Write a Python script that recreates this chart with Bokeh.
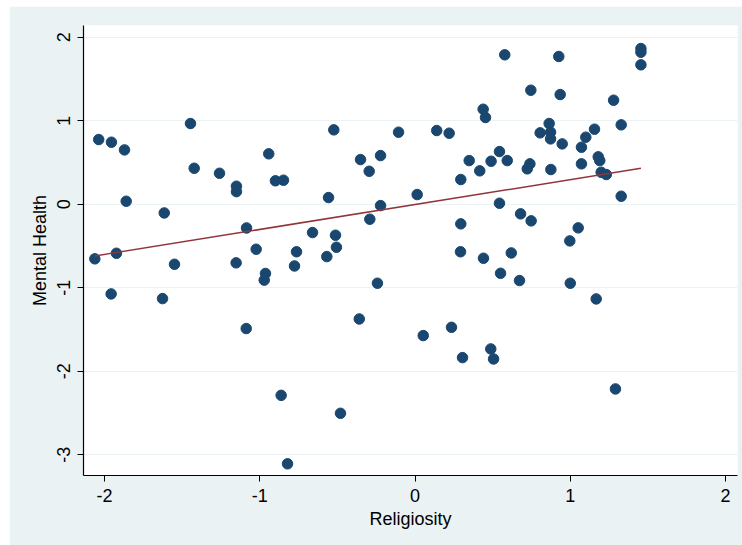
import numpy as np
from bokeh.plotting import figure
from bokeh.models import FixedTicker, ColumnDataSource
from bokeh.embed import file_html
from bokeh.resources import INLINE

# Data
religiosity = [
    -2.037, -1.955, -1.871, -1.860, -2.062, -1.923, -1.957, -1.615, -1.549, -1.626,
    -1.446, -1.422, -1.259, -1.150, -1.150, -1.085, -1.152, -1.023, -1.087, -0.942,
    -0.899, -0.847, -0.963, -0.971, -0.862, -0.821, -0.776, -0.763,
    -0.523, -0.106, 0.140, 0.220, -0.351, -0.295, -0.222, 0.014, -0.557, -0.222,
    -0.291, -0.660, -0.512, -0.506, -0.568, -0.242, -0.359, 0.053, 0.235, -0.480,
    0.295, 0.349, 0.417, 0.490, 0.544, 0.594, 0.544, 0.295, 0.293, 0.441,
    0.620, 0.551, 0.673, 0.488, 0.306, 0.506, 0.578, 0.439, 0.454,
    1.455, 1.455, 1.455, 0.926, 0.746, 0.935, 1.279, 1.328, 0.864, 0.806,
    0.873, 0.873, 0.948, 1.156, 1.100, 1.072, 1.180, 1.190, 0.723, 0.740,
    0.875, 1.072, 1.199, 1.232, 1.328, 0.680, 0.748, 1.051, 0.997, 1.000,
    1.167, 1.291,
]
mental_health = [
    0.774, 0.742, 0.650, 0.035, -0.655, -0.588, -1.075, -0.105, -0.720, -1.131,
    0.966, 0.430, 0.370, 0.215, 0.150, -0.285, -0.703, -0.540, -1.490, 0.603,
    0.280, 0.287, -0.830, -0.910, -2.290, -3.110, -0.740, -0.570,
    0.890, 0.862, 0.882, 0.850, 0.534, 0.394, 0.582, 0.115, 0.079, -0.017,
    -0.180, -0.340, -0.372, -0.516, -0.628, -0.947, -1.375, -1.574, -1.475, -2.505,
    0.295, 0.522, 0.399, 0.514, 0.630, 0.522, 0.011, -0.236, -0.570, -0.648,
    -0.584, -0.828, -0.915, -1.734, -1.838, -1.854, 1.789, 1.137, 1.038,
    1.864, 1.820, 1.669, 1.769, 1.365, 1.313, 1.245, 0.950, 0.966, 0.854,
    0.862, 0.782, 0.722, 0.898, 0.802, 0.682, 0.567, 0.522, 0.423, 0.483,
    0.415, 0.483, 0.382, 0.355, 0.095, -0.116, -0.200, -0.284, -0.440, -0.947,
    -1.135, -2.213,
]
x_ticks = [-2, -1, 0, 1, 2]
x_tick_labels = ["-2", "-1", "0", "1", "2"]
y_ticks = [-3, -2, -1, 0, 1, 2]
y_tick_labels = ["-3", "-2", "-1", "0", "1", "2"]

# Linear fit (as Stata's lfit)
xa = np.array(religiosity)
ya = np.array(mental_health)
slope, intercept = np.polyfit(xa, ya, 1)
fit_x = [xa.min(), xa.max()]
fit_y = [intercept + slope * v for v in fit_x]

FONT = "Liberation Sans"
BG = "#eaf2f3"

p = figure(width=733, height=539, output_backend="svg", toolbar_location=None,
           x_range=(-2.135, 2.077), y_range=(-3.25, 2.14),
           min_border_left=74, min_border_right=5, min_border_top=19, min_border_bottom=70)
p.margin = (6, 0, 0, 9)
p.background_fill_color = "white"
p.border_fill_color = BG
p.outline_line_color = None

p.xgrid.visible = False
p.ygrid.grid_line_color = BG
p.ygrid.grid_line_width = 1.2
p.ygrid.ticker = FixedTicker(ticks=y_ticks)

for ax in (p.xaxis[0], p.yaxis[0]):
    ax.axis_line_color = "black"
    ax.axis_line_width = 1.2
    ax.major_tick_line_color = "black"
    ax.major_tick_out = 6
    ax.major_tick_in = 0
    ax.minor_tick_line_color = None
    ax.major_label_text_font = FONT
    ax.major_label_text_font_size = "18px"
    ax.major_label_text_color = "black"
    ax.axis_label_text_font = FONT
    ax.axis_label_text_font_size = "18px"
    ax.axis_label_text_font_style = "normal"
    ax.axis_label_text_color = "black"

p.xaxis.ticker = FixedTicker(ticks=x_ticks)
p.yaxis.ticker = FixedTicker(ticks=y_ticks)
p.xaxis.major_label_overrides = {t: s for t, s in zip(x_ticks, x_tick_labels)}
p.yaxis.major_label_overrides = {t: s for t, s in zip(y_ticks, y_tick_labels)}
p.xaxis.axis_label = "Religiosity"
p.yaxis.axis_label = "Mental Health"
p.yaxis.major_label_orientation = "vertical"
p.xaxis.major_label_standoff = 7
p.yaxis.major_label_standoff = 7
p.xaxis.axis_label_standoff = 4
p.yaxis.axis_label_standoff = 5

src = ColumnDataSource(dict(x=religiosity, y=mental_health))
p.scatter("x", "y", source=src, size=10.5, fill_color="#1a476f", line_color="#1a476f")
p.line(fit_x, fit_y, line_color="#90353b", line_width=1.5)

open("out.html", "w").write(file_html(p, INLINE))
